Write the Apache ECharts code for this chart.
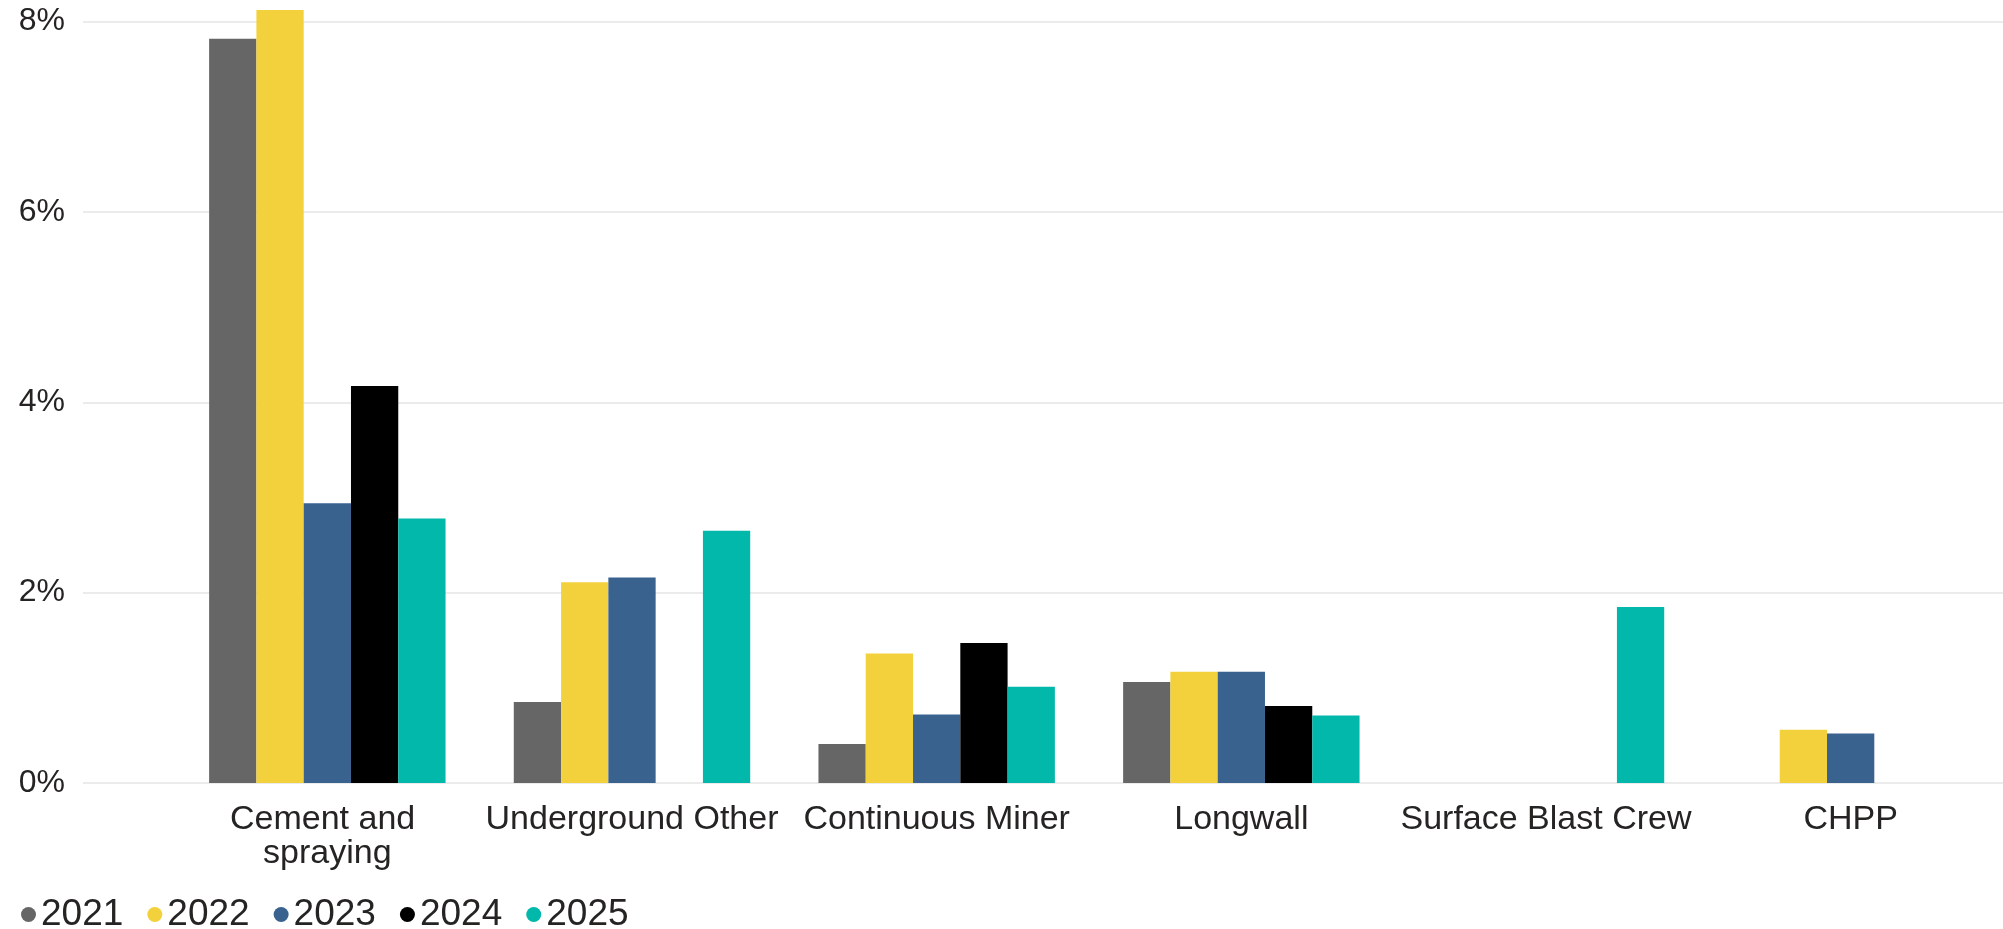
<!DOCTYPE html>
<html>
<head>
<meta charset="utf-8">
<script src="https://cdn.jsdelivr.net/npm/echarts@6/dist/echarts.min.js"></script>
<style>
html,body{margin:0;padding:0;background:#fff;}
#chart{width:2003px;height:929px;}
</style>
</head>
<body>
<div id="chart"></div>
<script>
var categories = ['Cement and spraying', 'Underground Other', 'Continuous Miner', 'Longwall', 'Surface Blast Crew', 'CHPP'];
var seriesNames = ['2021', '2022', '2023', '2024', '2025'];
var v2021 = [7.82, 0.85, 0.41, 1.06, null, null];
var v2022 = [8.12, 2.11, 1.36, 1.17, null, 0.56];
var v2023 = [2.94, 2.16, 0.72, 1.17, null, 0.52];
var v2024 = [4.17, null, 1.47, 0.81, null, null];
var v2025 = [2.78, 2.65, 1.01, 0.71, 1.85, null];
var yTicks = [0, 2, 4, 6, 8];
var colors = ['#666666', '#F3D13C', '#3A628F', '#000000', '#01B8AA'];

var values = [v2021, v2022, v2023, v2024, v2025];
var FONT = '"Liberation Sans", Arial, sans-serif';
var TXT = '#252423';

var chart = echarts.init(document.getElementById('chart'), null, {renderer: 'canvas'});
var series = seriesNames.map(function (name, i) {
  return {
    name: name,
    type: 'bar',
    xAxisIndex: 1,
    yAxisIndex: 1,
    clip: false,
    barGap: '0%',
    barCategoryGap: '22.4%',
    itemStyle: {color: colors[i]},
    data: values[i]
  };
});

chart.setOption({
  animation: false,
  backgroundColor: '#ffffff',
  color: colors,
  legend: {
    left: 16,
    top: 891,
    icon: 'circle',
    itemWidth: 15,
    itemHeight: 15,
    itemGap: 24,
    textStyle: {fontFamily: FONT, fontSize: 37, color: TXT, padding: [0, 0, 0, 0]},
    data: seriesNames
  },
  grid: [
    {left: 83, right: 0, top: 21.5, bottom: 146, containLabel: false},
    {left: 175, right: -23, top: 21.5, bottom: 146, containLabel: false}
  ],
  xAxis: [
    {type: 'category', gridIndex: 0, data: [''], show: false},
    {
      type: 'category', gridIndex: 1, data: categories,
      axisLine: {show: false}, axisTick: {show: false},
      axisLabel: {
        interval: 0, margin: 20, fontFamily: FONT, fontSize: 34, color: TXT,
        lineHeight: 34, width: 300, overflow: 'break'
      }
    }
  ],
  yAxis: [
    {
      type: 'value', gridIndex: 0, min: yTicks[0], max: yTicks[yTicks.length - 1], interval: 2,
      axisLine: {show: false}, axisTick: {show: false},
      splitLine: {show: true, lineStyle: {color: '#ebebeb', width: 2}},
      axisLabel: {margin: 18, fontFamily: FONT, fontSize: 32, color: TXT, formatter: '{value}%'}
    },
    {
      type: 'value', gridIndex: 1, min: yTicks[0], max: yTicks[yTicks.length - 1], interval: 2,
      show: false, splitLine: {show: false}
    }
  ],
  series: series
});
</script>
</body>
</html>
